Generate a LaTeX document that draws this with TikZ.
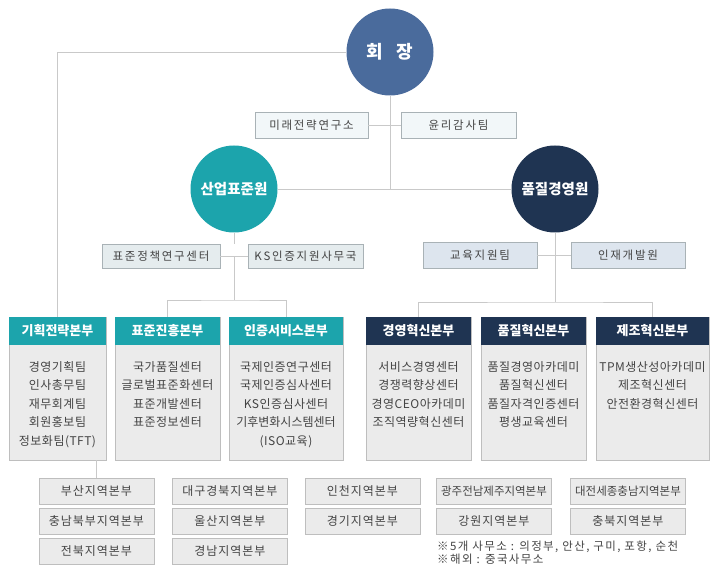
\documentclass[tikz,border=0pt]{standalone}
\usepackage{fontspec}
\setmainfont{Noto Sans CJK KR}
\newcommand{\lsp}[1]{\addfontfeature{LetterSpace=#1}}
\definecolor{linec}{HTML}{C9C9C9}
\definecolor{ceoc}{HTML}{4A6B9C}
\definecolor{tealc}{HTML}{1CA4AC}
\definecolor{navyc}{HTML}{1F3452}
\definecolor{bodyf}{HTML}{EBEBEB}
\definecolor{bodyb}{HTML}{BEBEBE}
\definecolor{txtc}{HTML}{444444}
\definecolor{topf}{HTML}{F2F7F9}
\definecolor{topb}{HTML}{A9B2B6}
\definecolor{midf}{HTML}{E5ECEE}
\definecolor{bluef}{HTML}{DDE5EE}
\tikzset{
  conn/.style={draw=linec, line width=0.9pt},
  circ/.style={circle, text=white, minimum size=87pt, inner sep=0pt, font=\bfseries\fontsize{14.5}{16}\selectfont},
  sbox/.style={draw=topb, fill=topf, minimum height=26pt, inner sep=0pt, text=txtc, font=\fontsize{11.5}{13}\selectfont\lsp{15}},
  card/.style={draw=bodyb, fill=bodyf, minimum height=143pt, inner sep=0pt},
  hdr/.style={minimum height=28pt, inner sep=0pt, text=white, font=\bfseries\fontsize{13}{15}\selectfont},
  btext/.style={anchor=north, align=center, inner sep=0pt, text=txtc, font=\fontsize{12}{18.6}\selectfont\lsp{4}},
  rbox/.style={draw=bodyb, fill=bodyf, minimum width=115pt, minimum height=26pt, inner sep=0pt, text=txtc, font=\fontsize{12}{13}\selectfont\lsp{8}},
  rlong/.style={font=\fontsize{11.5}{13}\selectfont\lsp{0}},
  note/.style={anchor=west, inner sep=0pt, text=txtc, font=\fontsize{11.5}{12}\selectfont\lsp{12}}
}
\begin{document}
\begin{tikzpicture}[x=1pt,y=-1pt]
\useasboundingbox[fill=white] (0,0) rectangle (723,577);
% circles
\node[circ, fill=ceoc, font=\bfseries\fontsize{18}{20}\selectfont] (ceo) at (390,52) {회\hspace{13pt}장};
\node[circ, fill=tealc] (ist) at (234,189) {산업표준원};
\node[circ, fill=navyc] (qm) at (555,189) {품질경영원};
% top staff boxes
\node[sbox, minimum width=113pt] (future) at (311.5,125) {미래전략연구소};
\node[sbox, minimum width=115pt] (ethics) at (458.5,125) {윤리감사팀};
\node[sbox, fill=midf, minimum width=118pt, minimum height=24pt] (stdpol) at (161,256.5) {표준정책연구센터};
\node[sbox, fill=midf, minimum width=115pt, minimum height=24pt] (ks) at (305.5,256.5) {KS인증지원사무국};
\node[sbox, fill=bluef, minimum width=114pt] (edu) at (480,255) {교육지원팀};
\node[sbox, fill=bluef, minimum width=114pt] (talent) at (628,255) {인재개발원};
% division cards
\node[card, minimum width=97pt] (d1) at (57.5,388.5) {};
\node[hdr, fill=tealc, minimum width=97pt] (d1h) at (57.5,331) {기획전략본부};
\node[btext] (d1t) at (57.5,361) {경영기획팀\\인사총무팀\\재무회계팀\\회원홍보팀\\정보화팀(TFT)};
\node[card, minimum width=105pt] (d2) at (167.5,388.5) {};
\node[hdr, fill=tealc, minimum width=105pt] (d2h) at (167.5,331) {표준진흥본부};
\node[btext] (d2t) at (167.5,361) {국가품질센터\\글로벌표준화센터\\표준개발센터\\표준정보센터};
\node[card, minimum width=114pt] (d3) at (286,388.5) {};
\node[hdr, fill=tealc, minimum width=114pt] (d3h) at (286,331) {인증서비스본부};
\node[btext] (d3t) at (286,361) {국제인증연구센터\\국제인증심사센터\\KS인증심사센터\\{\lsp{0}기후변화시스템센터}\\(ISO교육)};
\node[card, minimum width=105pt] (d4) at (418.5,388.5) {};
\node[hdr, fill=navyc, minimum width=105pt] (d4h) at (418.5,331) {경영혁신본부};
\node[btext] (d4t) at (418.5,361) {서비스경영센터\\경쟁력향상센터\\경영CEO아카데미\\조직역량혁신센터};
\node[card, minimum width=105pt] (d5) at (533.5,388.5) {};
\node[hdr, fill=navyc, minimum width=105pt] (d5h) at (533.5,331) {품질혁신본부};
\node[btext] (d5t) at (533.5,361) {품질경영아카데미\\품질혁신센터\\품질자격인증센터\\평생교육센터};
\node[card, minimum width=113pt] (d6) at (652.5,388.5) {};
\node[hdr, fill=navyc, minimum width=113pt] (d6h) at (652.5,331) {제조혁신본부};
\node[btext] (d6t) at (652.5,361) {TPM생산성아카데미\\제조혁신센터\\안전환경혁신센터};
% regional boxes
\node[rbox] (r11) at (96.5,491) {부산지역본부};
\node[rbox] (r12) at (96.5,521) {충남북부지역본부};
\node[rbox] (r13) at (96.5,551) {전북지역본부};
\node[rbox] (r21) at (230,491) {대구경북지역본부};
\node[rbox] (r22) at (230,521) {울산지역본부};
\node[rbox] (r23) at (230,551) {경남지역본부};
\node[rbox] (r31) at (362.5,491) {인천지역본부};
\node[rbox] (r32) at (362.5,521) {경기지역본부};
\node[rbox, rlong] (r41) at (494,491) {광주전남제주지역본부};
\node[rbox] (r42) at (494,521) {강원지역본부};
\node[rbox, rlong] (r51) at (628,491) {대전세종충남지역본부};
\node[rbox] (r52) at (628,521) {충북지역본부};
\node[note] (n1) at (437,547) {※5개 사무소 : 의정부, 안산, 구미, 포항, 순천};
\node[note] (n2) at (437,559.5) {※해외 : 중국사무소};
% connectors
\coordinate (bar1) at (234,300);
\coordinate (bar2) at (555,302);
\draw[conn] (ceo.west) -| (d1h.north);
\draw[conn] (ceo.south) -- (ceo.south |- ist.east);
\draw[conn] (future.east) -- (ethics.west);
\draw[conn] (ist.east) -- (qm.west);
\draw[conn] (ist.south) -- (ist.south |- stdpol.north);
\draw[conn] (stdpol.east) -- (ks.west);
\draw[conn] (ks.west -| ist.south) -- (bar1);
\draw[conn] (d2h.north) |- (bar1) -| (d3h.north);
\draw[conn] (qm.south) -- (bar2);
\draw[conn] (edu.east) -- (talent.west);
\draw[conn] (d4h.north) |- (bar2) -| (d6h.north);
\draw[conn] (r11.north) -- (r11.north |- d1.south);
\end{tikzpicture}
\end{document}
